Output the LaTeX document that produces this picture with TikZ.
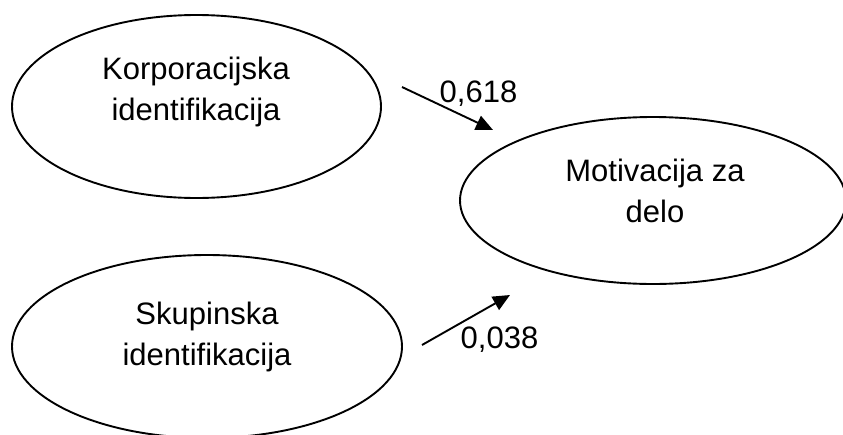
\documentclass[tikz,border=0pt]{standalone}
\usepackage{fontspec}
\setmainfont{Liberation Sans}
\usetikzlibrary{shapes.geometric,arrows.meta}
\begin{document}
\begin{tikzpicture}[x=1pt,y=-1pt,
  oval/.style={draw,ellipse,line width=1.9pt,inner sep=0pt},
  lbl/.style={font=\fontsize{31}{41}\selectfont,align=center,inner sep=0pt},
  num/.style={font=\fontsize{31}{41}\selectfont,inner sep=0pt,anchor=base},
  arr/.style={line width=1.9pt,-{Triangle[length=17pt,width=15pt]}}]
\useasboundingbox (0,0) rectangle (843,434);
\clip (0,0) rectangle (843,434);
% ellipses
\node[oval,minimum width=369pt,minimum height=183pt] (korp) at (196.5,106.5) {};
\node[oval,minimum width=386pt,minimum height=167pt] (motiv) at (653,200.5) {};
\node[oval,minimum width=390pt,minimum height=183pt] (skup) at (207,346.5) {};
% texts
\node[lbl] (korpt) at (196,92) {Korporacijska\\identifikacija};
\node[lbl] (motivt) at (655,191) {Motivacija za\\delo};
\node[lbl] (skupt) at (207,337) {Skupinska\\identifikacija};
% arrows
\coordinate (a1s) at (402,87);
\coordinate (a1e) at (493,130);
\coordinate (a2s) at (422,345);
\coordinate (a2e) at (510,295);
\draw[arr] (a1s) -- (a1e);
\draw[arr] (a2s) -- (a2e);
% labels
\node[num] (l1) at (478.5,102) {0,618};
\node[num] (l2) at (499.5,348) {0,038};
\end{tikzpicture}
\end{document}
